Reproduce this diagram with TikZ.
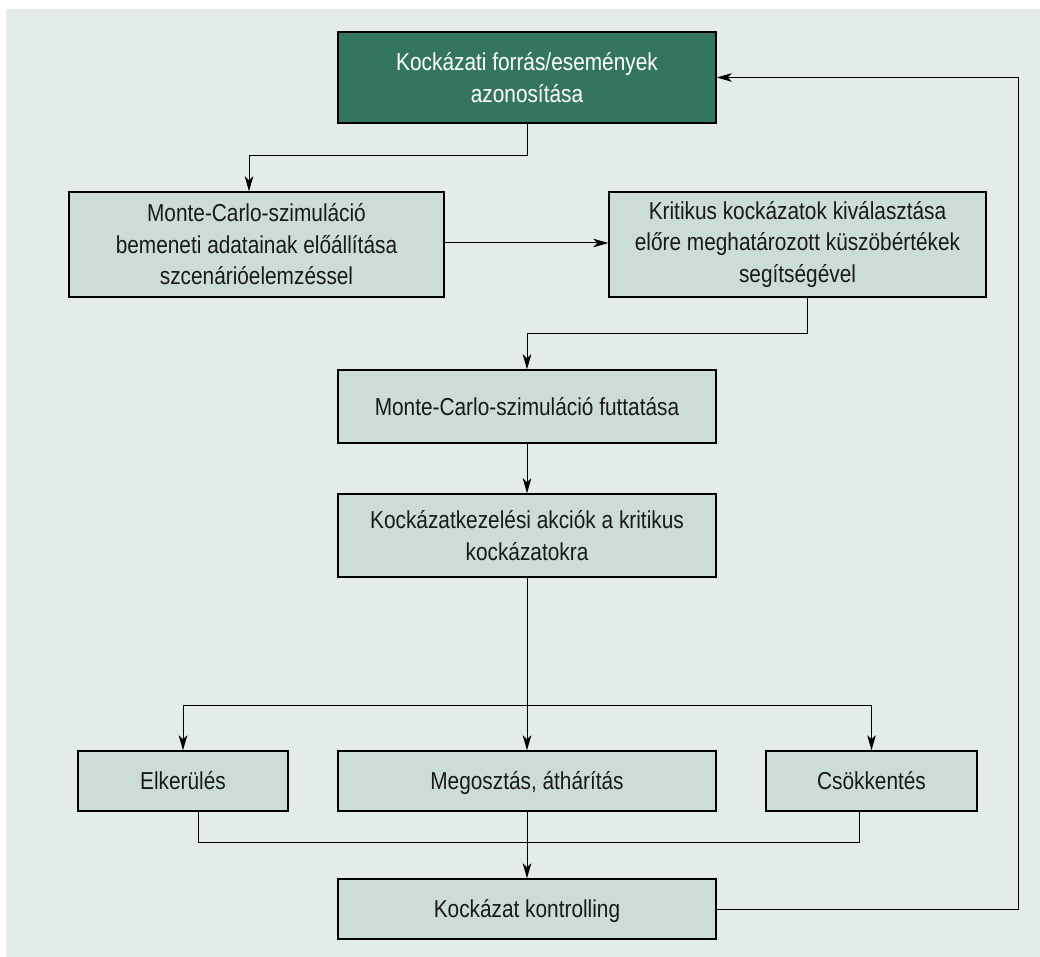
\documentclass[tikz,border=0pt]{standalone}
\usepackage{fontspec}
\setmainfont{Liberation Sans}[FakeStretch=0.85]
\usetikzlibrary{arrows.meta}
\definecolor{bgcol}{HTML}{E4ECE9}
\definecolor{boxcol}{HTML}{CCDDD7}
\definecolor{topcol}{HTML}{337561}
\begin{document}
\begin{tikzpicture}[x=1pt,y=1pt,
  box/.style={draw=black,line width=1.4pt,fill=boxcol,align=center,inner sep=0pt,
    font=\fontsize{24.5}{31.5}\selectfont,text=black!90},
  single/.style={text height=17.5pt,text depth=0pt},
  topbox/.style={box,fill=topcol,text=white},
  conn/.style={line width=1pt,draw=black},
  arr/.style={conn,-{Stealth[length=15pt,width=8.5pt,inset=4pt]}}]
\useasboundingbox (0,0) rectangle (1040,-957);
\fill[bgcol] (6,-9) rectangle (1040,-957);
% nodes
\node[topbox,minimum width=378pt,minimum height=91pt] (top) at (527,-77.5)
  {Kockázati forrás/események\\azonosítása};
\node[box,minimum width=375pt,minimum height=105pt] (mc) at (256.5,-244.5)
  {Monte-Carlo-szimuláció\\bemeneti adatainak előállítása\\szcenárióelemzéssel};
\node[box,minimum width=377pt,minimum height=105pt] (krit) at (797.5,-244.5)
  {Kritikus kockázatok kiválasztása\\előre meghatározott küszöbértékek\\segítségével};
\node[box,single,minimum width=378pt,minimum height=73pt] (fut) at (527,-406.5)
  {Monte-Carlo-szimuláció futtatása};
\node[box,minimum width=378pt,minimum height=83pt] (kez) at (527,-535.5)
  {Kockázatkezelési akciók a kritikus\\kockázatokra};
\node[box,single,minimum width=210pt,minimum height=60pt] (elk) at (183,-781)
  {Elkerülés};
\node[box,single,minimum width=378pt,minimum height=60pt] (meg) at (527,-781)
  {Megosztás, áthárítás};
\node[box,single,minimum width=211pt,minimum height=60pt] (csok) at (871.5,-781)
  {Csökkentés};
\node[box,single,minimum width=378pt,minimum height=60pt] (kon) at (527,-909)
  {Kockázat kontrolling};
% connectors
\draw[arr] (top.south) -- ++(0,-32) -| ([xshift=-7.5pt]mc.north);
\draw[arr] (mc.east |- 0,-243) -- (krit.west |- 0,-243);
\draw[arr] ([xshift=9.5pt]krit.south) -- ++(0,-36) -| (fut.north);
\draw[arr] (fut.south) -- (kez.north);
\draw[arr] (kez.south) -- (meg.north);
\coordinate (br) at (527,-705);
\draw[arr] (br) -| (elk.north);
\draw[arr] (br) -| (csok.north);
\coordinate (mg) at (527,-842);
\draw[conn] ([xshift=15pt]elk.south) |- (mg);
\draw[conn] ([xshift=-12.5pt]csok.south) |- (mg);
\draw[arr] (meg.south) -- (kon.north);
\coordinate (fb) at (1018,-909);
\draw[arr] (kon.east) -- (fb) |- (top.east);
\end{tikzpicture}
\end{document}
